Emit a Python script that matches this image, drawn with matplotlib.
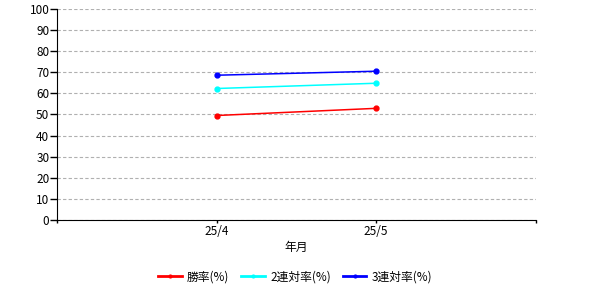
import matplotlib
matplotlib.use('Agg')
import matplotlib.pyplot as plt
from matplotlib.lines import Line2D

plt.rcParams['font.family'] = ['Noto Sans CJK JP', 'DejaVu Sans']

months = ['25/4', '25/5']
win_rate = [49.5, 52.9]
top2_rate = [62.3, 64.8]
top3_rate = [68.6, 70.5]
series_names = ['勝率(%)', '2連対率(%)', '3連対率(%)']
colors = ['red', 'cyan', 'blue']

fig = plt.figure(figsize=(6, 3), dpi=100)
ax = fig.add_axes([0.095, 0.267, 0.798, 0.703])

xs = [1, 2]
for vals, c in zip([win_rate, top2_rate, top3_rate], colors):
    ax.plot(xs, vals, color=c, marker='o', markersize=3.5, linewidth=1.1)

ax.set_xlim(0, 3)
ax.set_ylim(0, 100)
ax.set_xticks([0, 1, 2, 3])
ax.set_xticklabels(['', months[0], months[1], ''])
ax.set_yticks(range(0, 101, 10))
ax.yaxis.grid(True, linestyle=(0, (3, 2)), color='#b0b0b0', linewidth=0.8)
ax.set_axisbelow(True)
for s in ['top', 'right']:
    ax.spines[s].set_visible(False)
ax.tick_params(axis='x', labelsize=8.5, length=2.5, width=1, pad=1)
ax.tick_params(axis='y', labelsize=8.5, length=5, width=1, pad=0.5)
ax.set_xlabel('年月', fontsize=8.5, labelpad=2)

handles = [Line2D([], [], color=c, linewidth=2, marker='o', markersize=2)
           for c in colors]
fig.legend(handles, series_names, loc='center', bbox_to_anchor=(0.492, 0.077),
           ncol=3, frameon=False, fontsize=8.5, handlelength=2.0,
           columnspacing=1.0, handletextpad=0.45)

fig.savefig('out.png', dpi=100)
